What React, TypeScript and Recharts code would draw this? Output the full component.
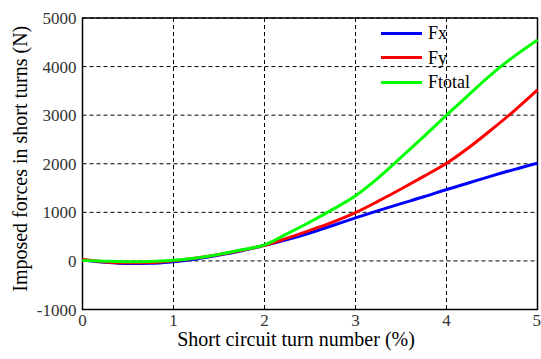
import React from "react";
import {
  LineChart,
  Line,
  XAxis,
  YAxis,
  CartesianGrid,
  Legend,
  ReferenceArea,
} from "recharts";

// Short circuit turn number (%)
const turnPercent = [0, 0.25, 0.5, 0.75, 1, 1.25, 1.5, 1.75, 2, 2.25, 2.5, 2.75, 3, 3.25, 3.5, 3.75, 4, 4.25, 4.5, 4.75, 5];

// Imposed forces (N)
const fx = [20, -30, -55, -50, -15, 40, 120, 210, 320, 440, 575, 730, 885, 1035, 1180, 1320, 1470, 1610, 1750, 1885, 2010];
const fy = [30, -20, -40, -35, 5, 60, 130, 220, 320, 470, 630, 800, 995, 1230, 1480, 1740, 2010, 2340, 2710, 3100, 3520];
const ftotal = [10, -5, -15, -10, 15, 60, 135, 230, 330, 560, 800, 1060, 1340, 1710, 2130, 2560, 3000, 3430, 3850, 4220, 4550];

const xTicks = [0, 1, 2, 3, 4, 5];
const yTicks = [-1000, 0, 1000, 2000, 3000, 4000, 5000];

const seriesNames = ["Fx", "Fy", "Ftotal"];
const seriesColors = ["#0000ff", "#ff0000", "#00ff00"];

const rows = turnPercent.map((x, i) => ({
  x,
  Fx: fx[i],
  Fy: fy[i],
  Ftotal: ftotal[i],
}));

const FONT = "'Liberation Serif', 'Times New Roman', serif";

const LegendBox = () => (
  <div style={{ fontFamily: FONT, fontSize: 18, color: "#000", lineHeight: "24.5px" }}>
    {seriesNames.map((name, i) => (
      <div key={name} style={{ display: "flex", alignItems: "center" }}>
        <span
          style={{
            display: "inline-block",
            width: 41,
            height: 3,
            background: seriesColors[i],
            marginRight: 6,
          }}
        />
        <span>{name}</span>
      </div>
    ))}
  </div>
);

export default function App() {
  return (
    <div style={{ position: "absolute", left: 0, top: 0, background: "#fff" }}>
      <LineChart
        width={541}
        height={359}
        data={rows}
        margin={{ top: 18, right: 3.5, left: 0, bottom: 19.5 }}
      >
        <CartesianGrid
          stroke="#000"
          strokeDasharray="4 3"
          strokeWidth={1}
          fill="none"
        />
        <XAxis
          dataKey="x"
          type="number"
          domain={[0, 5]}
          ticks={xTicks}
          height={30}
          tickLine={false}
          axisLine={false}
          tickSize={4}
          tickMargin={0}
          tick={{ fill: "#333", fontSize: 17, fontFamily: FONT }}
          label={{
            content: ({ viewBox }: any) => {
              const cx = viewBox.x + viewBox.width / 2 - 14;
              return (
                <text
                  x={cx}
                  y={346}
                  textAnchor="middle"
                  fontFamily={FONT}
                  fontSize={20}
                  fill="#000"
                >
                  Short circuit turn number (%)
                </text>
              );
            },
          }}
        />
        <YAxis
          type="number"
          domain={[-1000, 5000]}
          ticks={yTicks}
          width={82.5}
          tickLine={false}
          axisLine={false}
          tickMargin={0}
          tick={{ fill: "#333", fontSize: 17, fontFamily: FONT }}
          label={{
            content: ({ viewBox }: any) => {
              const cx = viewBox.x + 20;
              const cy = viewBox.y + viewBox.height / 2 - 5;
              return (
                <text
                  x={cx}
                  y={cy}
                  transform={`rotate(-90 ${cx} ${cy})`}
                  textAnchor="middle"
                  dominantBaseline="central"
                  fontFamily={FONT}
                  fontSize={20}
                  fill="#000"
                >
                  Imposed forces in short turns (N)
                </text>
              );
            },
          }}
        />
        <ReferenceArea
          x1={0}
          x2={5}
          y1={-1000}
          y2={5000}
          fill="none"
          stroke="#000"
          strokeWidth={1.5}
          ifOverflow="visible"
        />
        <Legend
          layout="vertical"
          align="center"
          verticalAlign="middle"
          content={<LegendBox />}
          wrapperStyle={{ left: 381, top: 21, width: "auto", height: "auto" }}
        />
        {seriesNames.map((name, i) => (
          <Line
            key={name}
            type="monotone"
            dataKey={name}
            stroke={seriesColors[i]}
            strokeWidth={3}
            dot={false}
            isAnimationActive={false}
          />
        ))}
      </LineChart>
    </div>
  );
}
